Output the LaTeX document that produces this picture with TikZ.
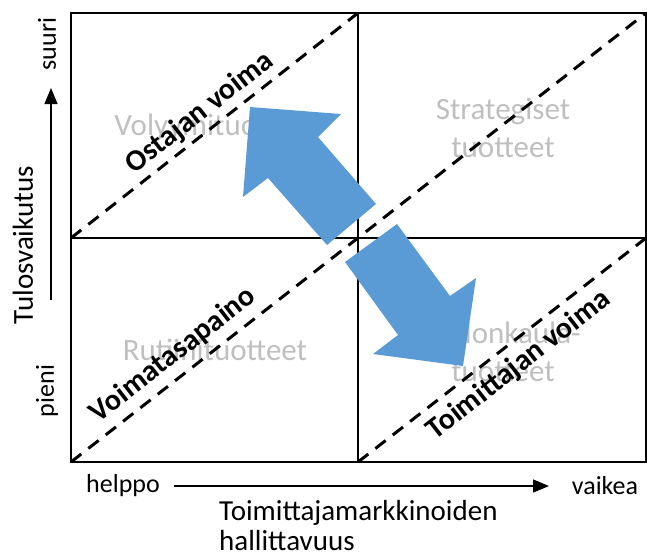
\documentclass[tikz,border=0pt]{standalone}
\usepackage{fontspec}
\setmainfont{Carlito}
\usetikzlibrary{arrows.meta}
\definecolor{arrowblue}{RGB}{91,155,213}
\definecolor{lightgreytext}{RGB}{191,191,191}
\begin{document}
\begin{tikzpicture}[x=1pt,y=-1pt,
 frameline/.style={line width=2pt,black},
 diagline/.style={line width=3pt,dash pattern=on 13pt off 9pt},
 quadtext/.style={text=lightgreytext,font=\fontsize{31}{38}\selectfont,align=center,inner sep=0pt},
 forcetext/.style={font=\fontsize{30}{36}\selectfont\bfseries,rotate=38,inner sep=0pt},
 smalltext/.style={font=\fontsize{26}{31}\selectfont,inner sep=0pt},
 axistitle/.style={font=\fontsize{29}{35}\selectfont,inner sep=0pt},
 bigarrow/.style={fill=arrowblue,draw=none},
 axisarrow/.style={line width=1.2pt,-{Triangle[length=16pt,width=13pt]}}]
\useasboundingbox (0,0) rectangle (647,558);
% quadrant names
\node[quadtext] (vol) at (216,127) {Volyymituotteet};
\node[quadtext] (str) at (503,128) {Strategiset\\tuotteet};
\node[quadtext] (rut) at (215,350) {Rutiinituotteet};
\node[quadtext] (pul) at (503,352) {Pullonkaula-\\tuotteet};
% frame
\coordinate (tl) at (71,13);
\coordinate (br) at (646,462);
\coordinate (tm) at (358,13);
\coordinate (bm) at (358,462);
\coordinate (ml) at (71,238);
\coordinate (mr) at (646,238);
\coordinate (bl) at (71,462);
\coordinate (tr) at (646,13);
\draw[frameline] (tl) rectangle (br);
\draw[frameline] (tm) -- (bm);
\draw[frameline] (ml) -- (mr);
% diagonals
\draw[diagline] (ml) -- (tm);
\draw[diagline] (bl) -- (tr);
\draw[diagline] (bm) -- (mr);
% big arrows
\fill[bigarrow] (250,107) -- (341,114) -- (318,137) -- (376,204) -- (327,245) -- (268,178) -- (243,197) -- cycle;
\fill[bigarrow] (345,262) -- (397,224) -- (450,296) -- (476,278) -- (463,366) -- (373,354) -- (398,335) -- cycle;
% force labels
\node[forcetext] (ost) at (200,113) {Ostajan voima};
\node[forcetext] (tas) at (173,355) {Voimatasapaino};
\node[forcetext] (toi) at (519,365) {Toimittajan voima};
% axes
\node[axistitle,rotate=90] (ytitle) at (23,245) {Tulosvaikutus};
\node[smalltext,rotate=90] (suuri) at (47,44) {suuri};
\node[smalltext,rotate=90] (pieni) at (47,391) {pieni};
\coordinate (ya) at (51,300);
\coordinate (yb) at (51,88);
\draw[axisarrow] (ya) -- (yb);
\node[smalltext] (helppo) at (123,486) {helppo};
\node[smalltext] (vaikea) at (605,486) {vaikea};
\coordinate (xa) at (174,486);
\coordinate (xb) at (549,486);
\draw[axisarrow] (xa) -- (xb);
\node[axistitle,anchor=west] (xt1) at (219,513) {Toimittajamarkkinoiden};
\node[axistitle,anchor=west] (xt2) at (219,541) {hallittavuus};
\end{tikzpicture}
\end{document}
